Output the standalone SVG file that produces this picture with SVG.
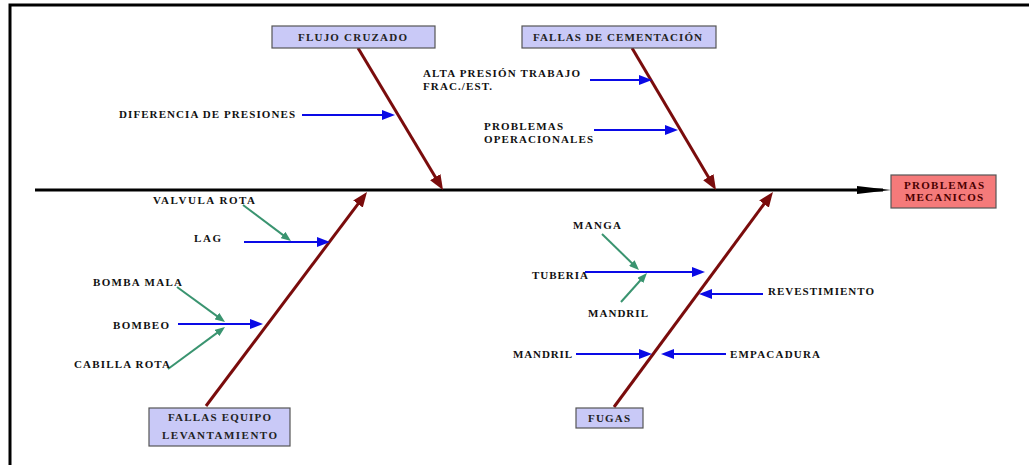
<svg xmlns="http://www.w3.org/2000/svg" width="1029" height="465" viewBox="0 0 1029 465">
  <style>
    .t { font-family: "Liberation Serif", "Times New Roman", serif; font-weight: bold; font-size: 11px; fill: #111; }
    .bt { fill: #222; }
    .rt { fill: #4a0000; }
    .box { fill: #c9c9f7; stroke: #555; stroke-width: 1.2; }
    .effect { fill: #f57a7a; stroke: #555; stroke-width: 1.2; }
    .spine { stroke: #000; stroke-width: 3; fill: none; }
    .bone { stroke: #7a0c0c; stroke-width: 3; fill: none; }
    .cause { stroke: #0a0ae6; stroke-width: 2; fill: none; }
    .sub { stroke: #3a9470; stroke-width: 2; fill: none; }
  </style>
  <defs>
    <marker id="ah-black" markerUnits="userSpaceOnUse" markerWidth="34" markerHeight="8" refX="26" refY="4" orient="auto">
      <path d="M0,0 L34,4 L0,8 z" fill="#000"/>
    </marker>
    <marker id="ah-red" markerUnits="userSpaceOnUse" markerWidth="15" markerHeight="12" refX="7" refY="6" orient="auto">
      <path d="M0,0 L15,6 L0,12 z" fill="#7a0c0c"/>
    </marker>
    <marker id="ah-blue" markerUnits="userSpaceOnUse" markerWidth="13" markerHeight="10" refX="9" refY="5" orient="auto">
      <path d="M0,0 L13,5 L0,10 z" fill="#0a0ae6"/>
    </marker>
    <marker id="ah-green" markerUnits="userSpaceOnUse" markerWidth="10" markerHeight="8" refX="6" refY="4" orient="auto">
      <path d="M0,0 L10,4 L0,8 z" fill="#3a9470"/>
    </marker>
  </defs>

  <rect width="1029" height="465" fill="#fff"/>
  <!-- frame -->
  <path d="M10,465 V5 H1029" stroke="#000" stroke-width="3" fill="none"/>

  <!-- connectors -->
  <g id="connectors">
    <line class="spine" x1="35" y1="190" x2="883" y2="190" marker-end="url(#ah-black)"/>
    <!-- main bones -->
    <line class="bone" x1="358" y1="48" x2="438.9" y2="183.1" marker-end="url(#ah-red)"/>
    <line class="bone" x1="632" y1="48" x2="711.9" y2="183.1" marker-end="url(#ah-red)"/>
    <line class="bone" x1="206" y1="406" x2="362.2" y2="198.4" marker-end="url(#ah-red)"/>
    <line class="bone" x1="614" y1="407" x2="768.2" y2="198.4" marker-end="url(#ah-red)"/>
    <!-- causes -->
    <line class="cause" x1="302" y1="115" x2="391" y2="115" marker-end="url(#ah-blue)"/>
    <line class="cause" x1="590" y1="80" x2="648" y2="80" marker-end="url(#ah-blue)"/>
    <line class="cause" x1="594" y1="130" x2="674" y2="130" marker-end="url(#ah-blue)"/>
    <line class="cause" x1="244" y1="242" x2="326" y2="242" marker-end="url(#ah-blue)"/>
    <line class="cause" x1="178" y1="324" x2="259" y2="324" marker-end="url(#ah-blue)"/>
    <line class="cause" x1="585" y1="272" x2="701" y2="272" marker-end="url(#ah-blue)"/>
    <line class="cause" x1="763" y1="294" x2="703" y2="294" marker-end="url(#ah-blue)"/>
    <line class="cause" x1="576" y1="354" x2="648" y2="354" marker-end="url(#ah-blue)"/>
    <line class="cause" x1="726" y1="354" x2="665" y2="354" marker-end="url(#ah-blue)"/>
    <!-- sub-causes -->
    <line class="sub" x1="243" y1="205" x2="287.8" y2="238.6" marker-end="url(#ah-green)"/>
    <line class="sub" x1="177" y1="287" x2="221.8" y2="319.6" marker-end="url(#ah-green)"/>
    <line class="sub" x1="168" y1="369" x2="221.8" y2="329.4" marker-end="url(#ah-green)"/>
    <line class="sub" x1="602" y1="234" x2="636.1" y2="267.2" marker-end="url(#ah-green)"/>
    <line class="sub" x1="621" y1="302" x2="644.3" y2="276" marker-end="url(#ah-green)"/>
  </g>

  <!-- category boxes -->
  <g id="flujo-cruzado">
    <rect class="box" x="272" y="26" width="163" height="22"/>
    <text class="t bt" x="298" y="41" textLength="109" lengthAdjust="spacing">FLUJO CRUZADO</text>
  </g>
  <g id="fallas-cementacion">
    <rect class="box" x="522" y="26" width="194" height="22"/>
    <text class="t bt" x="533" y="41" textLength="169" lengthAdjust="spacing">FALLAS DE CEMENTACIÓN</text>
  </g>
  <g id="fallas-equipo">
    <rect class="box" x="149" y="408" width="141" height="38"/>
    <text class="t bt" x="168" y="421" textLength="103" lengthAdjust="spacing">FALLAS EQUIPO</text>
    <text class="t bt" x="162" y="439" textLength="115" lengthAdjust="spacing">LEVANTAMIENTO</text>
  </g>
  <g id="fugas">
    <rect class="box" x="576" y="408" width="67" height="20"/>
    <text class="t bt" x="588" y="422" textLength="42" lengthAdjust="spacing">FUGAS</text>
  </g>
  <g id="problemas-mecanicos">
    <rect class="effect" x="891" y="175" width="105" height="33"/>
    <text class="t rt" x="904" y="189" textLength="80" lengthAdjust="spacing">PROBLEMAS</text>
    <text class="t rt" x="905" y="201" textLength="78" lengthAdjust="spacing">MECANICOS</text>
  </g>

  <!-- cause labels -->
  <g id="diferencia-presiones"><text class="t" x="119" y="118" textLength="176" lengthAdjust="spacing">DIFERENCIA DE PRESIONES</text></g>
  <g id="alta-presion">
    <text class="t" x="423" y="77" textLength="157" lengthAdjust="spacing">ALTA PRESIÓN TRABAJO</text>
    <text class="t" x="423" y="90" textLength="69" lengthAdjust="spacing">FRAC./EST.</text>
  </g>
  <g id="problemas-operacionales">
    <text class="t" x="484" y="130" textLength="79" lengthAdjust="spacing">PROBLEMAS</text>
    <text class="t" x="484" y="143" textLength="109" lengthAdjust="spacing">OPERACIONALES</text>
  </g>
  <g id="valvula-rota"><text class="t" x="153" y="204" textLength="102" lengthAdjust="spacing">VALVULA ROTA</text></g>
  <g id="lag"><text class="t" x="194" y="242" textLength="27" lengthAdjust="spacing">LAG</text></g>
  <g id="bomba-mala"><text class="t" x="93" y="286" textLength="89" lengthAdjust="spacing">BOMBA MALA</text></g>
  <g id="bombeo"><text class="t" x="113" y="329" textLength="56" lengthAdjust="spacing">BOMBEO</text></g>
  <g id="cabilla-rota"><text class="t" x="74" y="368" textLength="96" lengthAdjust="spacing">CABILLA ROTA</text></g>
  <g id="manga"><text class="t" x="573" y="229" textLength="48" lengthAdjust="spacing">MANGA</text></g>
  <g id="tuberia"><text class="t" x="532" y="279" textLength="56" lengthAdjust="spacing">TUBERIA</text></g>
  <g id="mandril-sup"><text class="t" x="588" y="317" textLength="60" lengthAdjust="spacing">MANDRIL</text></g>
  <g id="revestimiento"><text class="t" x="768" y="295" textLength="106" lengthAdjust="spacing">REVESTIMIENTO</text></g>
  <g id="mandril-inf"><text class="t" x="513" y="358" textLength="59" lengthAdjust="spacing">MANDRIL</text></g>
  <g id="empacadura"><text class="t" x="730" y="358" textLength="90" lengthAdjust="spacing">EMPACADURA</text></g>
</svg>
